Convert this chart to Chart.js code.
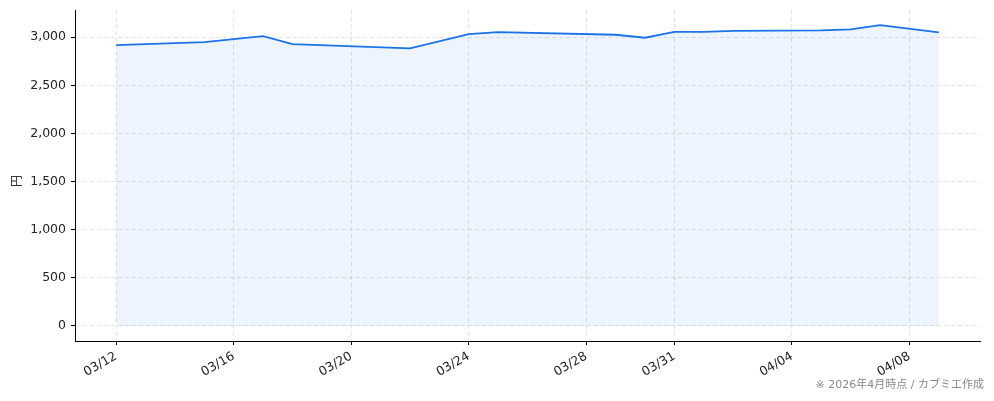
<!DOCTYPE html>
<html>
<head>
<meta charset="utf-8">
<script src="https://cdn.jsdelivr.net/npm/chart.js@4/dist/chart.umd.min.js"></script>
<style>
  html, body { margin: 0; padding: 0; background: #fff; }
  #wrap { width: 994px; height: 401px; }
</style>
</head>
<body>
<div id="wrap"><canvas id="chart-price" width="994" height="401"></canvas></div>
<script>
// price data (2026)
var dates = ['03/12', '03/15', '03/17', '03/18', '03/22', '03/24', '03/25', '03/29', '03/30',
             '03/31', '04/01', '04/02', '04/05', '04/06', '04/07', '04/09'];
var prices = [2918, 2949, 3011, 2928, 2884, 3032, 3053, 3025, 2994,
              3056, 3056, 3066, 3070, 3081, 3126, 3050];
var tickDates = ['03/12', '03/16', '03/20', '03/24', '03/28', '03/31', '04/04', '04/08'];
var yTicks = [0, 500, 1000, 1500, 2000, 2500, 3000];

var fontFamily = '"DejaVu Sans", "Noto Sans CJK JP", sans-serif';

function dayOf(md) {
    var p = md.split('/');
    var t = Date.UTC(2026, +p[0] - 1, +p[1]);
    return Math.round((t - Date.UTC(2026, 2, 12)) / 86400000);
}
var points = dates.map(function (d, i) { return { x: dayOf(d), y: prices[i] }; });
var labelByDay = {};
tickDates.forEach(function (d) { labelByDay[dayOf(d)] = d; });

var span = dayOf(dates[dates.length - 1]) - dayOf(dates[0]);
var yTop = 3126 * 1.05;

var notePlugin = {
    id: 'notes',
    afterDraw: function (chart) {
        var ctx = chart.ctx;
        ctx.save();
        ctx.fillStyle = '#333';
        ctx.font = '12px "Noto Sans CJK JP", sans-serif';
        ctx.translate(16, 181);
        ctx.rotate(-Math.PI / 2);
        ctx.textAlign = 'center';
        ctx.textBaseline = 'middle';
        ctx.fillText('円', 0, 0);
        ctx.restore();

        ctx.save();
        ctx.fillStyle = '#888';
        ctx.font = '11px ' + fontFamily;
        ctx.textAlign = 'right';
        ctx.textBaseline = 'middle';
        ctx.fillText('※ 2026年4月時点 / カブミエ作成', 984, 385);
        ctx.restore();
    }
};

var chartPrice = new Chart(document.getElementById('chart-price'), {
    type: 'line',
    data: {
        datasets: [{
            label: '株価',
            data: points,
            borderColor: '#1a73e8',
            backgroundColor: 'rgba(26, 115, 232, 0.08)',
            borderWidth: 1.8,
            pointRadius: 0,
            tension: 0,
            fill: 'origin'
        }]
    },
    options: {
        responsive: false,
        animation: false,
        layout: { padding: { top: 10, right: 14, left: 0, bottom: 0 } },
        plugins: {
            legend: { display: false },
            tooltip: { enabled: false }
        },
        scales: {
            x: {
                type: 'linear',
                min: -span * 0.05,
                max: span * 1.05,
                afterBuildTicks: function (scale) {
                    scale.ticks = tickDates.map(function (d) { return { value: dayOf(d) }; });
                },
                afterFit: function (scale) {
                    scale.height = 60;
                    scale.paddingLeft = 0;
                    scale.paddingRight = 0;
                },
                ticks: {
                    autoSkip: false,
                    minRotation: 30,
                    maxRotation: 30,
                    padding: 4,
                    color: '#222',
                    font: { family: fontFamily, size: 12.5 },
                    callback: function (v) { return labelByDay[v] || ''; }
                },
                grid: {
                    color: 'rgba(200, 205, 215, 0.55)',
                    tickColor: '#000',
                    tickLength: 4,
                    lineWidth: 1
                },
                border: { color: '#000', width: 1, dash: [4, 3] }
            },
            y: {
                min: -yTop * 0.05 / 1.05,
                max: yTop,
                afterBuildTicks: function (scale) {
                    scale.ticks = yTicks.map(function (v) { return { value: v }; });
                },
                afterFit: function (scale) {
                    scale.width = 75;
                    scale.paddingTop = 0;
                    scale.paddingBottom = 0;
                },
                ticks: {
                    padding: 5,
                    color: '#222',
                    font: { family: fontFamily, size: 12.5 },
                    callback: function (v) { return v.toLocaleString('en-US'); }
                },
                grid: {
                    color: 'rgba(200, 205, 215, 0.55)',
                    tickColor: '#000',
                    tickLength: 4,
                    lineWidth: 1
                },
                border: { color: '#000', width: 1, dash: [4, 3] }
            }
        }
    },
    plugins: [notePlugin]
});
</script>
</body>
</html>
